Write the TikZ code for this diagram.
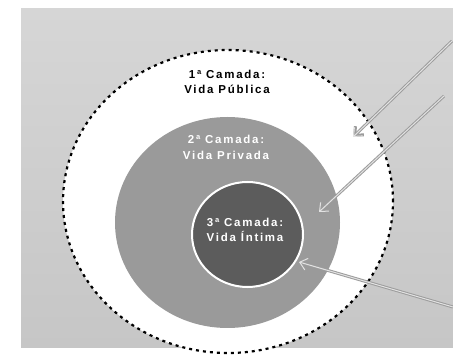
\documentclass[tikz,border=0pt]{standalone}
\usepackage{fontspec}
\setmainfont{Liberation Sans}[LetterSpace=15]
\usetikzlibrary{arrows.meta,shapes.geometric}
\definecolor{bgtop}{HTML}{D6D6D6}
\definecolor{bgbot}{HTML}{C6C6C6}
\definecolor{midgray}{HTML}{9A9A9A}
\definecolor{darkgray2}{HTML}{5C5C5C}
\definecolor{arrowout}{HTML}{9C9C9C}
\definecolor{arrowin}{HTML}{E2E2E2}
\tikzset{
  layer/.style={ellipse, inner sep=0pt, anchor=center},
  lbl/.style={font=\bfseries\fontsize{11.5}{15.5}\selectfont, align=center, inner sep=0pt},
  arrout/.style={draw=arrowout, line width=3pt, -{Straight Barb[length=7pt,width=12pt,line width=3pt]}},
  arrin/.style={draw=arrowin, line width=1pt, -{Straight Barb[length=7pt,width=12pt,line width=1pt]}}
}
\begin{document}
\begin{tikzpicture}[x=1pt,y=-1pt]
\useasboundingbox (0,0) rectangle (453,358);
\fill[white] (0,0) rectangle (453,358);
\shade[top color=bgtop, bottom color=bgbot] (21,9) rectangle (453,348);
\node[layer, fill=white, draw=black, line width=2.2pt, dash pattern=on 3pt off 4pt,
  minimum width=330pt, minimum height=303pt] (outer) at (228,201.5) {};
\node[layer, fill=midgray, minimum width=225pt, minimum height=211pt] (middle) at (227.5,222.5) {};
\node[layer, fill=darkgray2, draw=white, line width=2pt, minimum width=111pt, minimum height=105pt] (inner) at (247.5,234.5) {};
\node[lbl, text=black] (t1) at (227,82) {1ª Camada:\\Vida Pública};
\node[lbl, text=white] (t2) at (226,147.5) {2ª Camada:\\Vida Privada};
\node[lbl, text=white] (t3) at (245,230) {3ª Camada:\\Vida Íntima};
\coordinate (s1) at (452,41);
\coordinate (e1) at (353,137);
\coordinate (s2) at (444,96);
\coordinate (e2) at (319,212);
\coordinate (s3) at (453,307);
\coordinate (e3) at (299,262);
\foreach \s/\e in {s1/e1,s2/e2,s3/e3}{
  \draw[arrout] (\s) -- (\e);
  \draw[arrin] (\s) -- (\e);
}
\end{tikzpicture}
\end{document}
